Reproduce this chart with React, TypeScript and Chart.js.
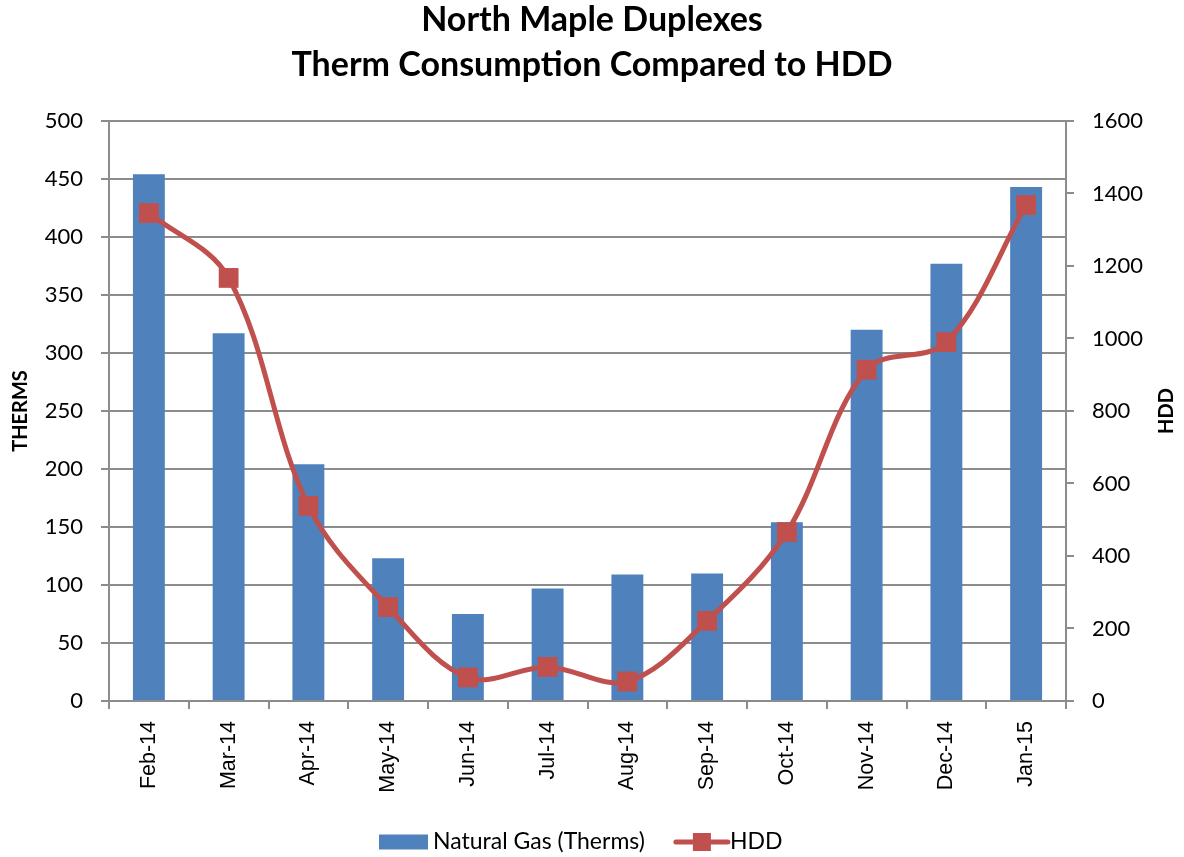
import React, { useEffect, useRef } from "react";
import { Chart, registerables } from "chart.js";

Chart.register(...registerables);

// Monthly data, Feb 2014 – Jan 2015
const months = ["Feb-14", "Mar-14", "Apr-14", "May-14", "Jun-14", "Jul-14", "Aug-14", "Sep-14", "Oct-14", "Nov-14", "Dec-14", "Jan-15"];
const thermValues = [454, 317, 204, 123, 75, 97, 109, 110, 154, 320, 377, 443];
const hddValues = [1346, 1167, 538, 259, 65, 94, 54, 221, 466, 914, 990, 1368];
const titleLines = ["North Maple Duplexes", "Therm Consumption Compared to HDD"];
const thermSeriesName = "Natural Gas (Therms)";
const hddSeriesName = "HDD";

const BLUE = "#4F81BD";
const RED = "#C0504D";
const GRID = "#8c8c8c";
const CALIBRI = "Lato, 'Open Sans', sans-serif";
const ARIAL = "'Liberation Sans', Arial, sans-serif";

// Right-axis title (bottom-to-top) and the legend row underneath the chart
const extrasPlugin = {
  id: "extras",
  afterDraw(chart: any) {
    const { ctx, chartArea } = chart;
    ctx.save();
    // right axis title
    ctx.font = `bold 20px ${CALIBRI}`;
    ctx.fillStyle = "#000";
    ctx.textAlign = "center";
    ctx.textBaseline = "middle";
    ctx.translate(1167, (chartArea.top + chartArea.bottom) / 2);
    ctx.rotate(-Math.PI / 2);
    ctx.fillText("HDD", 0, 0);
    ctx.restore();

    // legend
    ctx.save();
    const y = 842;
    ctx.font = `23px ${CALIBRI}`;
    ctx.textBaseline = "middle";
    ctx.textAlign = "left";
    let x = 379;
    ctx.fillStyle = BLUE;
    ctx.fillRect(x, y - 7.5, 49, 15);
    x += 54;
    ctx.fillStyle = "#000";
    ctx.fillText(thermSeriesName, x, y);
    x += ctx.measureText(thermSeriesName).width + 31;
    ctx.strokeStyle = RED;
    ctx.lineWidth = 5;
    ctx.lineCap = "round";
    ctx.beginPath();
    ctx.moveTo(x, y);
    ctx.lineTo(x + 52, y);
    ctx.stroke();
    ctx.fillStyle = RED;
    ctx.fillRect(x + 26 - 9, y - 9, 18, 18);
    x += 54;
    ctx.fillStyle = "#000";
    ctx.fillText(hddSeriesName, x, y);
    ctx.restore();
  },
};

export default function App() {
  const canvasRef = useRef<HTMLCanvasElement | null>(null);

  useEffect(() => {
    const canvas = canvasRef.current;
    if (!canvas) return;
    const chart = new Chart(canvas, {
      type: "bar",
      data: {
        labels: months,
        datasets: [
          {
            type: "line",
            label: hddSeriesName,
            data: hddValues,
            yAxisID: "yHdd",
            borderColor: RED,
            backgroundColor: RED,
            borderWidth: 5,
            tension: 0.35,
            pointStyle: "rect",
            pointRadius: 14,
            pointBorderWidth: 0,
            pointBackgroundColor: RED,
            order: 0,
          } as any,
          {
            type: "bar",
            label: thermSeriesName,
            data: thermValues,
            yAxisID: "y",
            backgroundColor: BLUE,
            categoryPercentage: 1,
            barPercentage: 0.4,
            order: 1,
          },
        ],
      },
      options: {
        responsive: false,
        animation: false,
        layout: { padding: 0 },
        plugins: {
          legend: { display: false },
          tooltip: { enabled: false },
          title: {
            display: true,
            text: titleLines,
            color: "#000",
            font: { family: CALIBRI, size: 34, weight: "bold", lineHeight: 1.32 },
            padding: { top: -2, bottom: 33.2 },
          },
        },
        scales: {
          x: {
            offset: true,
            grid: {
              offset: true,
              drawOnChartArea: false,
              drawTicks: true,
              tickLength: 8,
              color: GRID,
              lineWidth: 2,
            },
            border: { display: true, color: GRID, width: 2 },
            ticks: {
              color: "#000",
              font: { family: ARIAL, size: 21.5 },
              minRotation: 90,
              maxRotation: 90,
              padding: 12,
              autoSkip: false,
            },
            afterFit(scale: any) {
              scale.height = 156;
            },
          },
          y: {
            position: "left",
            min: 0,
            max: 500,
            ticks: {
              stepSize: 50,
              color: "#000",
              font: { family: CALIBRI, size: 22 },
              padding: 18,
            },
            grid: { color: GRID, lineWidth: 2, tickLength: 8 },
            border: { display: true, color: GRID, width: 2 },
            title: {
              display: true,
              text: "THERMS",
              color: "#000",
              font: { family: CALIBRI, size: 20, weight: "bold", lineHeight: 1.2 },
              padding: { top: 9, bottom: 0 },
            },
            afterFit(scale: any) {
              scale.width = 109;
            },
          },
          yHdd: {
            position: "right",
            min: 0,
            max: 1600,
            ticks: {
              stepSize: 200,
              color: "#000",
              font: { family: CALIBRI, size: 22 },
              padding: 18,
              callback: (value: any) => String(value),
            },
            grid: { drawOnChartArea: false, color: GRID, lineWidth: 2, tickLength: 8 },
            border: { display: true, color: GRID, width: 2 },
            afterFit(scale: any) {
              scale.width = 118;
            },
          },
        },
      },
      plugins: [extrasPlugin],
    });
    return () => chart.destroy();
  }, []);

  return (
    <div style={{ position: "fixed", left: 0, top: 0, width: 1184, height: 857, background: "#fff" }}>
      <canvas ref={canvasRef} width={1184} height={857} style={{ width: 1184, height: 857 }} />
    </div>
  );
}
